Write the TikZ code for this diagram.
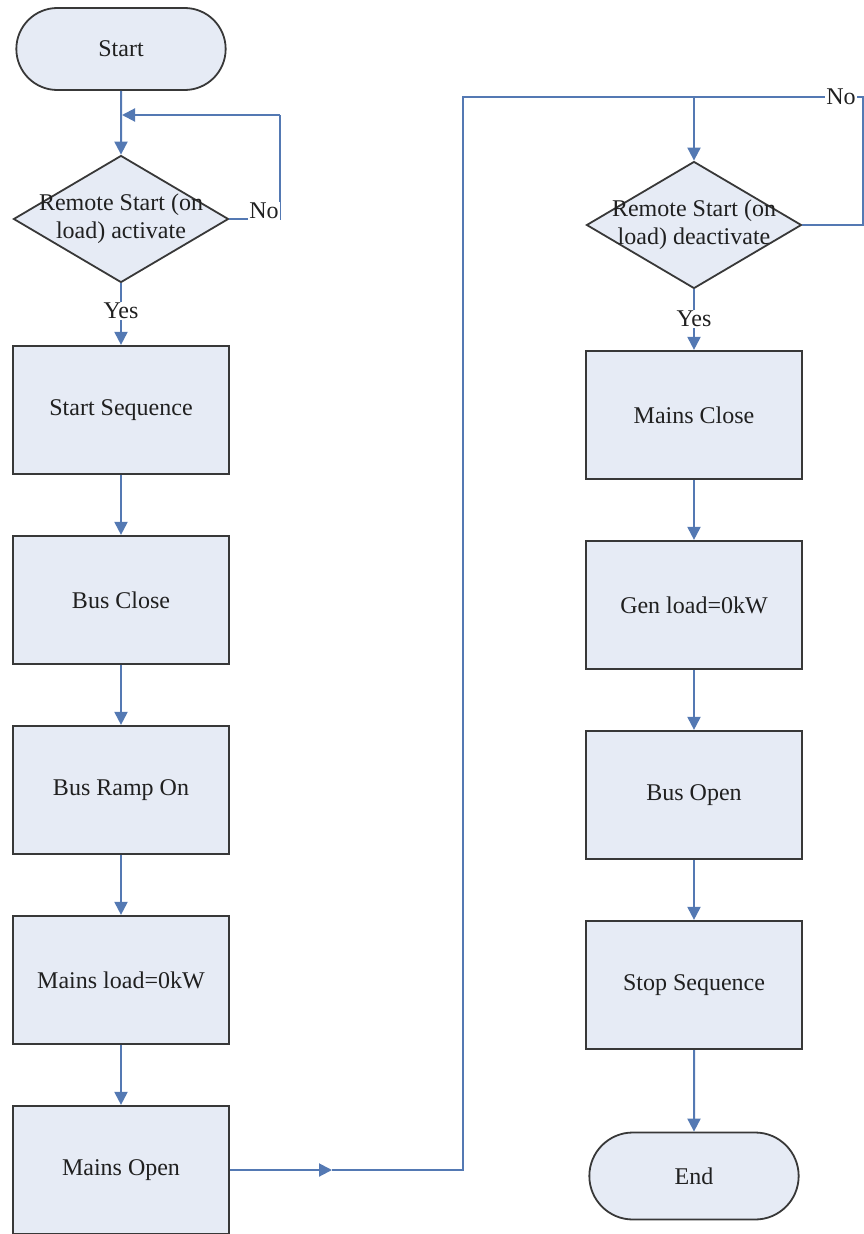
\documentclass[tikz,border=0pt]{standalone}
\usepackage{fontspec}
\setmainfont{Liberation Serif}
\usetikzlibrary{arrows.meta}
\usetikzlibrary{shapes.geometric, shapes.misc}

\definecolor{boxfill}{HTML}{E6EBF5}
\definecolor{boxline}{HTML}{383838}
\definecolor{flow}{HTML}{5479B3}
\definecolor{txt}{HTML}{202020}

\begin{document}
\begin{tikzpicture}[x=1pt, y=-1pt,
  every node/.style={font=\fontsize{24}{28}\selectfont, text=txt},
  process/.style={draw=boxline, line width=2.2pt, fill=boxfill, minimum width=216pt, minimum height=128pt, inner sep=0pt},
  terminal/.style={rounded rectangle, draw=boxline, line width=1.8pt, fill=boxfill, minimum width=216pt, minimum height=82pt},
  decision/.style={diamond, draw=boxline, line width=1.8pt, fill=boxfill, minimum width=215pt, minimum height=127pt, inner sep=0pt},
  flowline/.style={draw=flow, line width=2pt},
  flowarrow/.style={flowline, -{Triangle[length=13pt, width=13pt]}},
  answer/.style={fill=white, inner sep=1pt}]
\useasboundingbox (0,0) rectangle (864,1234);

% left column
\node[terminal] (start) at (121,49) {Start};
\node[decision] (act) at (121,219) {};
\node[align=center] (acttext) at (act) {Remote Start (on\\load) activate};
\foreach \y/\name/\txt in {410/seq/Start Sequence, 600/busc/Bus Close,
    790/ramp/Bus Ramp On, 980/mload/Mains load=0kW, 1170/mopen/Mains Open} {
  \node[process] (\name) at (121,\y) {\txt};
}

% right column
\node[decision] (deact) at (694,225) {};
\node[align=center] (deacttext) at (deact) {Remote Start (on\\load) deactivate};
\foreach \y/\name/\txt in {415/mclose/Mains Close, 605/gload/Gen load=0kW,
    795/busopen/Bus Open, 985/stop/Stop Sequence} {
  \node[process] (\name) at (694,\y) {\txt};
}
\node[terminal, minimum height=87pt] (end) at (694,1176) {End};

% corners of the connectors
\coordinate (noL) at (280,219);
\coordinate (noLtop) at (280,115);
\coordinate (joinL) at (122,115);
\coordinate (midR) at (332,1170);
\coordinate (riseB) at (463,1170);
\coordinate (riseT) at (463,97);
\coordinate (joinR) at (694,97);
\coordinate (noRtop) at (863,97);
\coordinate (noR) at (863,225);

% connectors
\draw[flowarrow] (start) -- (act);
\draw[flowline] (act.east) -- (noL) -- (noLtop);
\draw[flowarrow] (noLtop) -- (joinL);
\draw[flowarrow] (act) -- (seq);
\draw[flowarrow] (mopen.east) -- (midR);
\draw[flowline] (midR) -- (riseB) -- (riseT) -- (noRtop) -- (noR) -- (deact.east);
\draw[flowarrow] (joinR) -- (deact);
\draw[flowarrow] (deact) -- (mclose);
\foreach \a/\b in {seq/busc, busc/ramp, ramp/mload, mload/mopen,
    mclose/gload, gload/busopen, busopen/stop, stop/end} {
  \draw[flowarrow] (\a) -- (\b);
}

% answers
\node[answer] (noLlbl) at (264,211) {No};
\node[answer] (yesL) at (121,311) {Yes};
\node[answer] (noRlbl) at (841,97) {No};
\node[answer] (yesR) at (694,319) {Yes};
\end{tikzpicture}
\end{document}
